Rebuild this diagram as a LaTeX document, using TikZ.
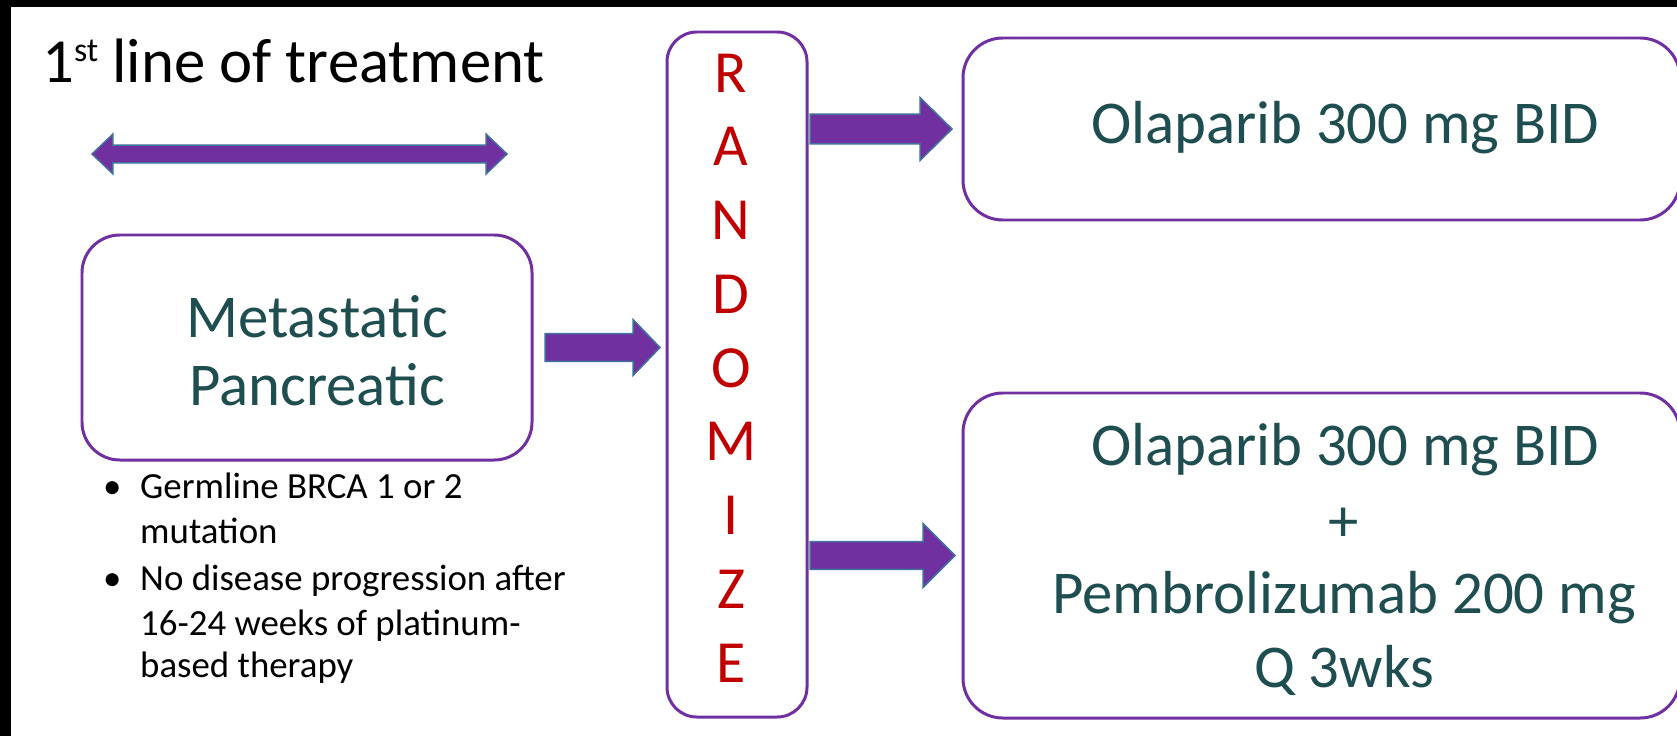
\documentclass[tikz,border=0pt]{standalone}
\usepackage{fontspec}
\setmainfont{Carlito}
\usetikzlibrary{calc}
\definecolor{boxpurple}{HTML}{7030A0}
\definecolor{arrowedge}{HTML}{41719C}
\definecolor{randred}{HTML}{C00000}
\definecolor{tealtext}{HTML}{1F4E50}
\tikzset{
  roundbox/.style={draw=boxpurple, line width=3pt, rounded corners=#1, inner sep=0pt, outer sep=0pt, fill=white},
  roundbox/.default=38pt,
  boxtext/.style={text=tealtext, font=\fontsize{61}{74}\selectfont, anchor=base, inner sep=0pt},
  randletter/.style={text=randred, font=\fontsize{60}{70}\selectfont, anchor=base, inner sep=0pt},
  titletext/.style={text=black, font=\fontsize{63}{72}\selectfont, anchor=base west, inner sep=0pt},
  bullettext/.style={text=black, font=\fontsize{37}{45}\selectfont, anchor=base west, inner sep=0pt},
  blockarrow/.style n args={3}{draw=arrowedge, fill=boxpurple, line width=1.5pt, line join=miter,
    to path={let \p1=(\tikztostart), \p2=(\tikztotarget) in
      (\x1,{\y1+#1}) -- ({\x2-#3},{\y1+#1}) -- ({\x2-#3},{\y1+#2}) -- (\x2,\y1)
      -- ({\x2-#3},{\y1-#2}) -- ({\x2-#3},{\y1-#1}) -- (\x1,{\y1-#1}) -- cycle}},
  dblarrow/.style n args={3}{draw=arrowedge, fill=boxpurple, line width=1.5pt, line join=miter,
    to path={let \p1=(\tikztostart), \p2=(\tikztotarget) in
      (\x1,\y1) -- ({\x1+#3},{\y1+#2}) -- ({\x1+#3},{\y1+#1}) -- ({\x2-#3},{\y1+#1})
      -- ({\x2-#3},{\y1+#2}) -- (\x2,\y1) -- ({\x2-#3},{\y1-#2}) -- ({\x2-#3},{\y1-#1})
      -- ({\x1+#3},{\y1-#1}) -- ({\x1+#3},{\y1-#2}) -- cycle}}
}
\begin{document}
\begin{tikzpicture}[x=1bp, y=-1bp]
\useasboundingbox (0,0) rectangle (1677,736);
\fill[white] (-30,-30) rectangle (1710,770);
\fill[black] (-30,-30) rectangle (1710,7);
\fill[black] (-30,-30) rectangle (11,770);

% boxes
\node[roundbox=38pt, minimum width=450bp, minimum height=225bp] (meta) at (307,347.5) {};
\node[roundbox=30pt, minimum width=140bp, minimum height=685bp] (rand) at (737,374.5) {};
\node[roundbox=40pt, minimum width=717bp, minimum height=182bp] (armA) at (1321.5,129) {};
\node[roundbox=40pt, minimum width=717bp, minimum height=325bp] (armB) at (1321.5,555.5) {};

% arrows
\coordinate (dl) at (92,154);
\coordinate (dr) at (507,154);
\draw[dblarrow={9pt}{20pt}{21pt}] (dl) to (dr);
\draw[blockarrow={14pt}{28pt}{27pt}] ($(meta.east)+(13,0)$) to ($(rand.west)+(-7,0)$);
\draw[blockarrow={15pt}{31.5pt}{32pt}] ($(rand.east|-armA.west)+(3,0)$) to ($(armA.west)+(-11,0)$);
\draw[blockarrow={14pt}{32pt}{32pt}] ($(rand.east|-armB.west)+(3,0)$) to ($(armB.west)+(-8,0)$);

% title
\node[titletext] (title) at (42,83) {1\raisebox{22pt}{\fontsize{34}{34}\selectfont st} line of treatment};

% metastatic box text
\node[boxtext] (metaA) at (317,337) {Metastatic};
\node[boxtext] (metaB) at (317,405) {Pancreatic};

% randomize letters
\foreach \l [count=\i] in {R,A,N,D,O,M,I,Z,E}
  \node[randletter] (letter\i) at (731,{92+(\i-1)*73.75}) {\l};

% arm texts
\node[boxtext] (armAtext) at (1345,143) {Olaparib 300 mg BID};
\node[boxtext] (armBa) at (1345,465) {Olaparib 300 mg BID};
\node[boxtext] (armBb) at (1344,541) {+};
\node[boxtext] (armBc) at (1344,613) {Pembrolizumab 200 mg};
\node[boxtext] (armBd) at (1344,687) {Q 3wks};

% bullets
\node[bullettext] (dot1) at (103,498) {•};
\node[bullettext] (b1a) at (140,498) {Germline BRCA 1 or 2};
\node[bullettext] (b1b) at (140,543) {mutation};
\node[bullettext] (dot2) at (103,590) {•};
\node[bullettext] (b2a) at (140,590) {No disease progression after};
\node[bullettext] (b2b) at (140,635) {16-24 weeks of platinum-};
\node[bullettext] (b2c) at (140,677) {based therapy};
\end{tikzpicture}
\end{document}
